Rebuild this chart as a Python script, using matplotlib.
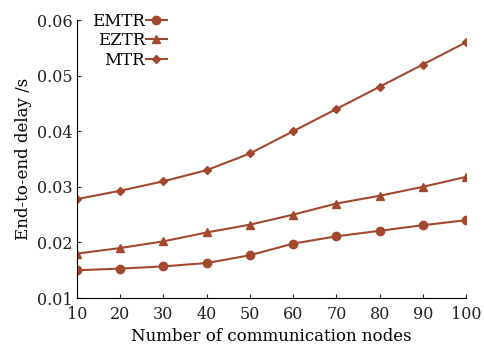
import matplotlib
matplotlib.use("Agg")
import matplotlib.pyplot as plt

plt.rcParams['font.family'] = ['DejaVu Serif']

nodes = [10, 20, 30, 40, 50, 60, 70, 80, 90, 100]
emtr = [0.0150, 0.0153, 0.0157, 0.0163, 0.0177, 0.0198, 0.0211, 0.0221, 0.0231, 0.0240]
eztr = [0.0180, 0.0190, 0.0202, 0.0218, 0.0232, 0.0250, 0.0270, 0.0284, 0.0300, 0.0318]
mtr = [0.0278, 0.0293, 0.0310, 0.0330, 0.0360, 0.0400, 0.0440, 0.0480, 0.0520, 0.0560]

col = '#a2482f'

fig = plt.figure(figsize=(4.84, 3.45), dpi=100)
ax = fig.add_axes([0.159, 0.136, 0.804, 0.806])
ax.plot(nodes, emtr, color=col, marker='o', ms=6, lw=1.5, label='EMTR')
ax.plot(nodes, eztr, color=col, marker='^', ms=6, lw=1.5, label='EZTR')
ax.plot(nodes, mtr, color=col, marker='D', ms=4, lw=1.5, label='MTR')

ax.set_xlim(10, 100)
ax.set_ylim(0.01, 0.06)
ax.set_xticks(nodes)
ax.set_yticks([0.01, 0.02, 0.03, 0.04, 0.05, 0.06])
ax.set_yticklabels(['0.01', '0.02', '0.03', '0.04', '0.05', '0.06'])
ax.spines['top'].set_visible(False)
ax.spines['right'].set_visible(False)
ax.tick_params(direction='in', length=3, labelsize=11.5, colors='#222222')
ax.tick_params(axis='x', pad=6)
ax.tick_params(axis='y', pad=3)
ax.set_xlabel('Number of communication nodes', fontsize=12, labelpad=3)
ax.set_ylabel('End-to-end delay /s', fontsize=12, labelpad=4)

ax.legend(loc='upper left', bbox_to_anchor=(0.0, 1.08), frameon=False, markerfirst=False,
          fontsize=12, handlelength=1.3, handletextpad=0.05, labelspacing=0.15,
          alignment='right')

fig.savefig('out.png', dpi=100)
